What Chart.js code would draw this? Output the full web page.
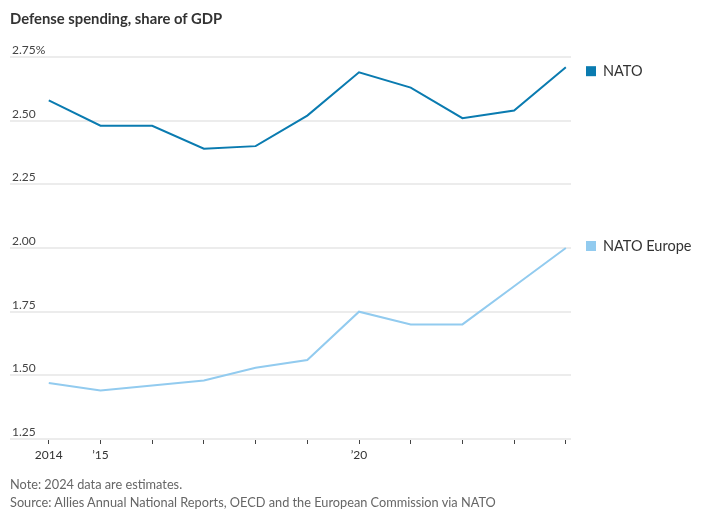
<!DOCTYPE html>
<html>
<head>
<meta charset="utf-8">
<script src="https://cdn.jsdelivr.net/npm/chart.js@4"></script>
<style>
  body { margin: 0; background: #fff; font-family: Lato, sans-serif; }
  #wrap { position: relative; width: 714px; height: 521px; }
  #chart { position: absolute; left: 0; top: 0; }
  .title { position: absolute; left: 10px; top: 9px; font-size: 14.8px; font-weight: bold; color: #333; }
  .note { position: absolute; left: 10px; font-size: 12.75px; color: #666; }
</style>
</head>
<body>
<div id="wrap">
  <canvas id="chart" width="714" height="521"></canvas>
  <div class="title">Defense spending, share of GDP</div>
  <div class="note" style="top:476px">Note: 2024 data are estimates.</div>
  <div class="note" style="top:494px">Source: Allies Annual National Reports, OECD and the European Commission via NATO</div>
</div>
<script>
// DATA
const years = [2014, 2015, 2016, 2017, 2018, 2019, 2020, 2021, 2022, 2023, 2024];
const natoValues = [2.58, 2.48, 2.48, 2.39, 2.40, 2.52, 2.69, 2.63, 2.51, 2.54, 2.71];
const europeValues = [1.47, 1.44, 1.46, 1.48, 1.53, 1.56, 1.75, 1.70, 1.70, 1.85, 2.00];
const yTicks = [1.25, 1.50, 1.75, 2.00, 2.25, 2.50, 2.75];
const xLabels = { 2014: "2014", 2015: "\u201915", 2020: "\u201920" };
const seriesNames = ["NATO", "NATO Europe"];
const seriesColors = ["#0a7bb0", "#92cbef"];
const labelShift = [4, -2]; // nudge end labels like the original

// END LABELS
const endLabels = {
  id: "endLabels",
  afterDatasetsDraw(chart) {
    const ctx = chart.ctx;
    const area = chart.chartArea;
    ctx.save();
    ctx.font = "14.5px Lato";
    ctx.textBaseline = "middle";
    chart.data.datasets.forEach((ds, i) => {
      const pts = chart.getDatasetMeta(i).data;
      const y = pts[pts.length - 1].y + labelShift[i];
      ctx.fillStyle = ds.borderColor;
      ctx.fillRect(area.right + 15, y - 5, 10, 10);
      ctx.fillStyle = "#333";
      ctx.fillText(ds.label, area.right + 32, y);
    });
    ctx.restore();
  }
};

function toPoints(vals) {
  return vals.map((v, i) => ({ x: years[i], y: v }));
}

new Chart(document.getElementById("chart"), {
  type: "line",
  data: {
    datasets: [
      { label: seriesNames[0], data: toPoints(natoValues), borderColor: seriesColors[0], borderWidth: 2, pointRadius: 0, tension: 0 },
      { label: seriesNames[1], data: toPoints(europeValues), borderColor: seriesColors[1], borderWidth: 2, pointRadius: 0, tension: 0 }
    ]
  },
  options: {
    responsive: false,
    animation: false,
    layout: { padding: { top: 57, left: 10, right: 143, bottom: 52 } },
    plugins: { legend: { display: false }, tooltip: { enabled: false } },
    scales: {
      x: {
        type: "linear",
        min: 2013.25,
        max: 2024.1,
        afterBuildTicks: s => { s.ticks = years.map(v => ({ value: v })); },
        afterFit: s => { s.height = 30; },
        border: { display: false },
        grid: { drawOnChartArea: false, drawTicks: true, tickLength: 5, color: "#444" },
        ticks: {
          padding: 4,
          maxRotation: 0,
          autoSkip: false,
          color: "#333",
          font: { family: "Lato", size: 12 },
          callback: v => xLabels[v] || ""
        }
      },
      y: {
        min: 1.25,
        max: 2.75,
        afterBuildTicks: s => { s.ticks = yTicks.map(v => ({ value: v })); },
        afterFit: s => { s.width = 0; },
        border: { display: false },
        grid: { drawTicks: false, color: "#ececec", lineWidth: 2 },
        ticks: {
          mirror: true,
          padding: 2,
          labelOffset: -7,
          color: "#444",
          font: { family: "Lato", size: 12 },
          callback: v => v === 2.75 ? "2.75%" : v.toFixed(2)
        }
      }
    }
  },
  plugins: [endLabels]
});
</script>
</body>
</html>
